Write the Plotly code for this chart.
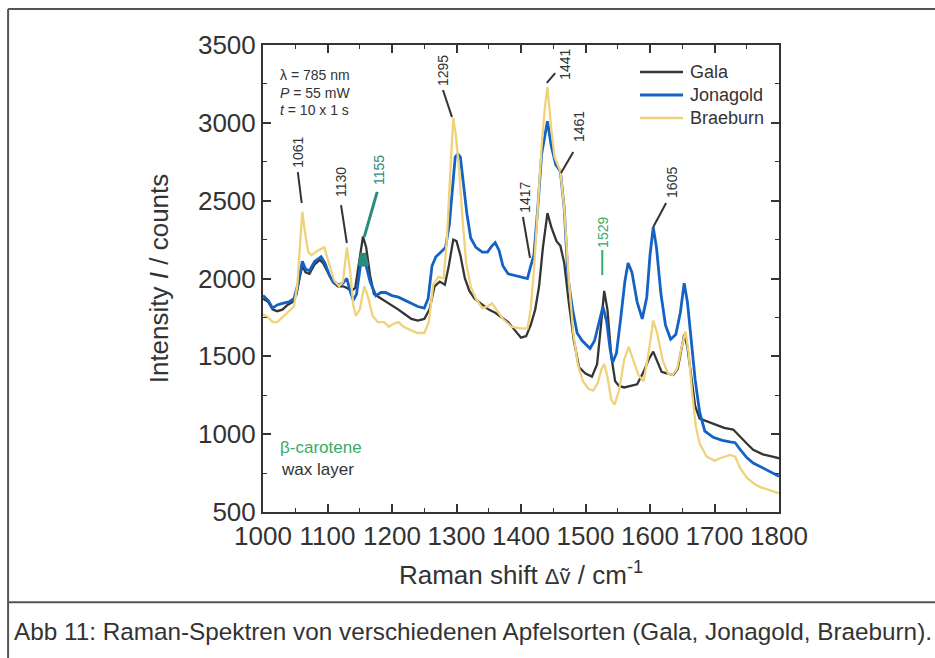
import numpy as np
import plotly.graph_objects as go

# ---- Raman spectra of three apple varieties (785 nm excitation) ----
gala_shift = [1000, 1008, 1015, 1022, 1030, 1038, 1046, 1052, 1057, 1061, 1066, 1072, 1080, 1088, 1093,
              1100, 1108, 1116, 1124, 1130, 1137, 1143, 1149, 1155, 1160, 1166, 1172, 1180, 1190, 1200,
              1210, 1220, 1230, 1240, 1250, 1258, 1266, 1274, 1282, 1288, 1295, 1300, 1306, 1313, 1320,
              1328, 1338, 1350, 1360, 1370, 1380, 1390, 1400, 1408, 1415, 1422, 1428, 1434, 1441, 1447,
              1455, 1461, 1467, 1474, 1482, 1490, 1500, 1510, 1518, 1524, 1529, 1534, 1540, 1546, 1552,
              1560, 1570, 1580, 1590, 1598, 1605, 1611, 1618, 1626, 1636, 1643, 1649, 1653, 1658, 1664,
              1670, 1677, 1690, 1700, 1715, 1729, 1740, 1750, 1760, 1775, 1790, 1800]
gala_counts = [1870, 1850, 1800, 1790, 1800, 1830, 1850, 1900, 2010, 2080, 2040, 2030, 2090, 2120, 2100,
               2040, 1980, 1950, 1950, 1940, 1920, 1940, 2100, 2270, 2200, 2020, 1900, 1880, 1850, 1830,
               1800, 1770, 1740, 1730, 1740, 1800, 1950, 1980, 1960, 2080, 2250, 2240, 2150, 2000, 1920,
               1870, 1840, 1800, 1780, 1750, 1720, 1670, 1620, 1630, 1700, 1800, 1950, 2200, 2420, 2330,
               2240, 2210, 2100, 1850, 1600, 1430, 1390, 1370, 1450, 1700, 1920, 1800, 1500, 1340, 1310,
               1300, 1310, 1320, 1400, 1480, 1530, 1470, 1400, 1390, 1380, 1420, 1560, 1640, 1560, 1350,
               1180, 1100, 1080, 1060, 1040, 1030, 980, 940, 900, 870, 855, 845]

jonagold_shift = [1000, 1008, 1015, 1022, 1030, 1040, 1048, 1054, 1061, 1066, 1072, 1080, 1090, 1096, 1103,
                  1110, 1118, 1124, 1130, 1135, 1140, 1145, 1151, 1155, 1160, 1166, 1175, 1183, 1190, 1200,
                  1210, 1220, 1230, 1240, 1250, 1256, 1262, 1268, 1276, 1283, 1289, 1294, 1298, 1302, 1306,
                  1311, 1316, 1322, 1330, 1340, 1348, 1355, 1360, 1366, 1372, 1380, 1390, 1400, 1410, 1415,
                  1420, 1426, 1432, 1441, 1447, 1454, 1461, 1467, 1473, 1480, 1487, 1495, 1507, 1514, 1520,
                  1527, 1533, 1538, 1542, 1548, 1555, 1561, 1566, 1572, 1580, 1588, 1595, 1600, 1605, 1610,
                  1617, 1624, 1632, 1640, 1647, 1653, 1658, 1664, 1670, 1677, 1685, 1698, 1712, 1724, 1732,
                  1740, 1750, 1760, 1780, 1800]
jonagold_counts = [1890, 1860, 1810, 1830, 1840, 1850, 1870, 1960, 2110, 2060, 2050, 2110, 2140, 2100, 2020,
                   1970, 1960, 1970, 2000, 1920, 1860, 1900, 2080, 2160, 2080, 1980, 1890, 1910, 1910, 1890,
                   1880, 1860, 1840, 1820, 1810, 1870, 2080, 2140, 2170, 2200, 2350, 2600, 2780, 2800, 2780,
                   2600, 2420, 2260, 2200, 2170, 2170, 2210, 2230, 2180, 2080, 2030, 2020, 2010, 2000, 2080,
                   2150, 2450, 2800, 3010, 2850, 2730, 2690, 2450, 2000, 1800, 1650, 1600, 1550, 1600, 1700,
                   1820, 1720, 1550, 1460, 1520, 1760, 1980, 2100, 2040, 1850, 1740, 1880, 2150, 2330, 2200,
                   1900, 1700, 1610, 1640, 1780, 1970, 1850, 1600, 1350, 1140, 1020, 980, 960, 950, 945,
                   900, 850, 815, 770, 730]

braeburn_shift = [1000, 1008, 1015, 1022, 1030, 1040, 1048, 1053, 1057, 1061, 1065, 1070, 1075, 1085, 1095,
                  1102, 1110, 1118, 1124, 1130, 1135, 1140, 1144, 1150, 1157, 1163, 1170, 1178, 1188, 1195,
                  1203, 1210, 1218, 1228, 1240, 1250, 1257, 1264, 1272, 1280, 1285, 1290, 1295, 1299, 1304,
                  1309, 1315, 1322, 1330, 1340, 1348, 1355, 1362, 1372, 1385, 1398, 1410, 1415, 1420, 1426,
                  1432, 1437, 1441, 1446, 1452, 1461, 1467, 1474, 1481, 1488, 1496, 1505, 1512, 1519, 1525,
                  1529, 1534, 1540, 1545, 1552, 1560, 1567, 1574, 1582, 1590, 1597, 1605, 1611, 1620, 1628,
                  1635, 1642, 1649, 1655, 1660, 1665, 1671, 1677, 1688, 1700, 1712, 1724, 1732, 1740, 1750,
                  1762, 1771, 1785, 1800]
braeburn_counts = [1770, 1750, 1720, 1720, 1750, 1790, 1820, 1950, 2200, 2430, 2300, 2170, 2150, 2180, 2200,
                   2100, 1990, 1950, 1980, 2200, 2050, 1830, 1760, 1800, 1950, 1880, 1760, 1720, 1720, 1690,
                   1710, 1720, 1690, 1670, 1650, 1650, 1720, 1960, 2010, 2000, 2250, 2650, 3030, 2920, 2700,
                   2400, 2100, 1950, 1870, 1810, 1820, 1840, 1800, 1740, 1690, 1680, 1680, 1800, 2050, 2450,
                   2850, 3100, 3230, 3000, 2780, 2690, 2450, 2000, 1650, 1450, 1340, 1290, 1280, 1330, 1420,
                   1450, 1370, 1220, 1190, 1280, 1480, 1560, 1480, 1380, 1340, 1500, 1730, 1650, 1470, 1390,
                   1380, 1420, 1560, 1660, 1520, 1280, 1050, 940, 855, 830, 850, 866, 855, 780, 720,
                   680, 660, 640, 620]

series_names = ["Gala", "Jonagold", "Braeburn"]
series_colors = ["#353535", "#1462c4", "#f0d27a"]
series_widths = [2.3, 2.8, 2.3]

x_ticks = [1000, 1100, 1200, 1300, 1400, 1500, 1600, 1700, 1800]
y_ticks = [500, 1000, 1500, 2000, 2500, 3000, 3500]

# band assignments: label text, label centre, leader line start/end, colour
band_labels = ["1061", "1130", "1155", "1295", "1417", "1441", "1461", "1529", "1605"]
label_pos = [(1054, 2813), (1121, 2620), (1180, 2697), (1279, 3339), (1406, 2524),
             (1468, 3378), (1490, 2973), (1527, 2299), (1634, 2620)]
leader_from = [(1054, 2684), (1121, 2472), (1177, 2556), (1279, 3211), (1403, 2395),
               (1453, 3320), (1481, 2813), (1526, 2183), (1625, 2485)]
leader_to = [(1060, 2485), (1130, 2228), (1157, 2267), (1293, 3037), (1414, 2132),
             (1440, 3256), (1462, 2678), (1526, 2022), (1605, 2331)]

TEXT = "#333333"
TEAL = "#2a8c80"
GREEN = "#3aaa6a"
band_colors = [TEXT, TEXT, TEAL, TEXT, TEXT, TEXT, TEXT, GREEN, TEXT]
FONT = "Liberation Sans, Arial, sans-serif"

fig = go.Figure()
for name, xs, ys, col, w in zip(series_names,
                                [gala_shift, jonagold_shift, braeburn_shift],
                                [gala_counts, jonagold_counts, braeburn_counts],
                                series_colors, series_widths):
    fig.add_trace(go.Scatter(x=xs, y=ys, mode="lines", name=name,
                             line=dict(color=col, width=w), showlegend=False))

# beta-carotene band at 1155 highlighted on the Jonagold spectrum
jx = np.array(jonagold_shift)
jy = np.array(jonagold_counts)
sel = (jx >= 1148) & (jx <= 1160)
fig.add_trace(go.Scatter(x=jx[sel], y=jy[sel], mode="lines", showlegend=False,
                         line=dict(color=TEAL, width=6)))

# key in the upper right corner: sample line + name per series
legend_rows = [0.9422, 0.8929, 0.8437]
for name, col, w, yy in zip(series_names, series_colors, series_widths, legend_rows):
    fig.add_shape(type="line", xref="paper", yref="paper", x0=0.7306, x1=0.814, y0=yy, y1=yy,
                  line=dict(color=col, width=w))
    fig.add_annotation(x=0.8236, y=yy, xref="paper", yref="paper", text=name, showarrow=False,
                       xanchor="left", yanchor="middle", font=dict(family=FONT, size=18, color=TEXT))

# leader lines and rotated band labels
for lab, (tx, ty), (x0, y0), (x1, y1), col in zip(band_labels, label_pos, leader_from,
                                                   leader_to, band_colors):
    fig.add_shape(type="line", xref="x", yref="y", x0=x0, y0=y0, x1=x1, y1=y1,
                  line=dict(color=col, width=3 if col == TEAL else 2))
    fig.add_annotation(x=tx, y=ty, xref="x", yref="y", text=lab, textangle=-90,
                       showarrow=False, font=dict(family=FONT, size=14, color=col))

# measurement conditions
for txt, yy in [("λ = 785 nm", 0.936), ("<i>P</i> = 55 mW", 0.898), ("<i>t</i> = 10 x 1 s", 0.860)]:
    fig.add_annotation(x=0.029, y=yy, xref="paper", yref="paper", text=txt, showarrow=False,
                       xanchor="left", yanchor="middle", font=dict(family=FONT, size=14, color=TEXT))

fig.add_annotation(x=0.029, y=0.139, xref="paper", yref="paper", text="β-carotene", showarrow=False,
                   xanchor="left", yanchor="middle", font=dict(family=FONT, size=17, color=GREEN))
fig.add_annotation(x=0.031, y=0.092, xref="paper", yref="paper", text="wax layer", showarrow=False,
                   xanchor="left", yanchor="middle", font=dict(family=FONT, size=17, color=TEXT))

# figure frame and caption box
FRAME = "#555555"
fig.add_shape(type="line", xref="paper", yref="paper", x0=-0.494, y0=1.077, x1=1.32, y1=1.077,
              line=dict(color=FRAME, width=2))
fig.add_shape(type="line", xref="paper", yref="paper", x0=-0.494, y0=1.077, x1=-0.494, y1=-0.32,
              line=dict(color=FRAME, width=2))
fig.add_shape(type="line", xref="paper", yref="paper", x0=-0.494, y0=-0.193, x1=1.32, y1=-0.193,
              line=dict(color=FRAME, width=2))
fig.add_annotation(x=-0.486, y=-0.255, xref="paper", yref="paper", showarrow=False,
                   xanchor="left", yanchor="middle",
                   text="Abb 11: Raman-Spektren von verschiedenen Apfelsorten (Gala, Jonagold, Braeburn).",
                   font=dict(family=FONT, size=24.3, color=TEXT))

axis_common = dict(showgrid=False, zeroline=False, showline=True, linecolor=TEXT, linewidth=2,
                   mirror="allticks", ticks="inside", ticklen=8, tickwidth=1.6, tickcolor=TEXT,
                   tickfont=dict(family=FONT, size=26, color=TEXT))

fig.update_layout(
    width=935, height=658,
    margin=dict(l=263, r=156, t=45, b=146),
    paper_bgcolor="white", plot_bgcolor="white",
    showlegend=False,
    xaxis=dict(range=[1000, 1800], tickvals=x_ticks,
               minor=dict(dtick=50, ticks="inside", ticklen=4, tickcolor=TEXT, tickwidth=1.4),
               title=dict(text="Raman shift <span style='font-size:22px'>Δṽ</span> / cm<sup>-1</sup>",
                          font=dict(family=FONT, size=26, color=TEXT), standoff=16),
               **axis_common),
    yaxis=dict(range=[500, 3500], tickvals=y_ticks,
               minor=dict(dtick=250, ticks="inside", ticklen=4, tickcolor=TEXT, tickwidth=1.4),
               title=dict(text="Intensity <i>I</i> / counts",
                          font=dict(family=FONT, size=26, color=TEXT), standoff=22),
               **axis_common),
)

fig.write_html("out.html")
